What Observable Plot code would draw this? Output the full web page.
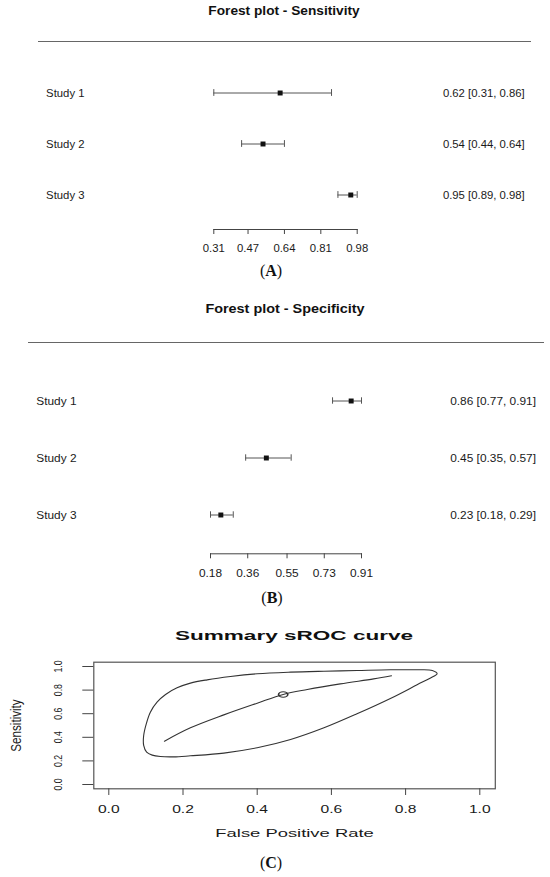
<!DOCTYPE html>
<html><head><meta charset="utf-8">
<script src="https://cdn.jsdelivr.net/npm/d3@7"></script>
<script src="https://cdn.jsdelivr.net/npm/@observablehq/plot@0.6"></script>
<style>
html,body{margin:0;padding:0;background:#fff;}
#page{position:relative;width:550px;height:877px;overflow:hidden;font-family:"Liberation Sans",Arial,sans-serif;color:#1a1a1a;}
.panel{position:absolute;left:0;}
.title{position:absolute;font-weight:bold;white-space:nowrap;line-height:1;transform-origin:50% 50%;color:#111;}
.cap{position:absolute;font-family:"Liberation Serif","Times New Roman",serif;font-size:16px;line-height:1;white-space:nowrap;transform:translateX(-50%);color:#111;}
.rule{position:absolute;height:0;border-top:1.3px solid #666;}
</style></head><body><div id="page"></div>
<script>
// ---- data ----
const studies = ["Study 1", "Study 2", "Study 3"];
const sensEst = [0.62, 0.54, 0.95];
const sensLow = [0.31, 0.44, 0.89];
const sensHigh = [0.86, 0.64, 0.98];
const specEst = [0.86, 0.45, 0.23];
const specLow = [0.77, 0.35, 0.18];
const specHigh = [0.91, 0.57, 0.29];
const sensTicks = [0.31, 0.47, 0.64, 0.81, 0.98];
const specTicks = [0.18, 0.36, 0.55, 0.73, 0.91];
const rocTicks = [0, 0.2, 0.4, 0.6, 0.8, 1];
// confidence region of the summary point
const regionFpr = [0.885, 0.872, 0.831, 0.759, 0.669, 0.580, 0.490, 0.400, 0.328, 0.265, 0.220, 0.184, 0.153, 0.130, 0.112, 0.101, 0.094, 0.094, 0.102, 0.117, 0.139, 0.175, 0.220, 0.310, 0.400, 0.490, 0.580, 0.669, 0.759, 0.831, 0.876];
const regionSens = [0.938, 0.966, 0.972, 0.972, 0.966, 0.960, 0.952, 0.938, 0.915, 0.887, 0.859, 0.819, 0.763, 0.698, 0.613, 0.514, 0.415, 0.331, 0.274, 0.249, 0.237, 0.234, 0.243, 0.266, 0.311, 0.381, 0.480, 0.599, 0.729, 0.845, 0.918];
// sROC curve
const curveFpr = [0.150, 0.220, 0.310, 0.400, 0.470, 0.535, 0.624, 0.714, 0.762];
const curveSens = [0.367, 0.480, 0.590, 0.689, 0.763, 0.805, 0.853, 0.895, 0.921];
const summaryFpr = [0.470];
const summarySens = [0.763];

const FONT = '"Liberation Sans", Arial, Helvetica, sans-serif';
const page = document.getElementById("page");

function scaleText(nodes, sx) {
  nodes.forEach(t => t.setAttribute("transform", (t.getAttribute("transform") || "") + ` scale(${sx},1)`));
}
function addTitle(text, cx, top, size, sx) {
  const d = document.createElement("div");
  d.className = "title"; d.textContent = text;
  d.style.left = cx + "px"; d.style.top = top + "px"; d.style.fontSize = size + "px";
  d.style.transform = `translateX(-50%) scaleX(${sx})`;
  page.appendChild(d);
}
function addCaption(letter, cx, top) {
  const d = document.createElement("div");
  d.className = "cap";
  d.innerHTML = `(<b>${letter}</b>)`;
  d.style.left = cx + "px"; d.style.top = top + "px";
  page.appendChild(d);
}
function addRule(x1, x2, y) {
  const d = document.createElement("div");
  d.className = "rule";
  d.style.left = x1 + "px"; d.style.width = (x2 - x1) + "px"; d.style.top = y + "px";
  page.appendChild(d);
}
function place(node, top) {
  const wrap = document.createElement("div");
  wrap.className = "panel"; wrap.style.top = top + "px";
  wrap.appendChild(node); page.appendChild(wrap);
}

function forest(est, low, high, ticks, o) {
  const rows = studies.map((s, i) => ({
    study: s, est: est[i], low: low[i], high: high[i],
    label: `${est[i].toFixed(2)} [${low[i].toFixed(2)}, ${high[i].toFixed(2)}]`
  }));
  const svg = Plot.plot({
    width: 550, height: o.height,
    marginLeft: o.left, marginRight: o.right, marginTop: 10, marginBottom: o.bottom,
    style: {background: "transparent", fontFamily: FONT, fontSize: "11px", color: "#1a1a1a"},
    x: {domain: [ticks[0], ticks[ticks.length - 1]]},
    y: {type: "band", domain: studies, range: o.range, padding: 0, axis: null},
    marks: [
      Plot.frame({anchor: "bottom", stroke: "#444"}),
      Plot.axisX({ticks, tickSize: 5, tickPadding: o.pad, tickFormat: d => d.toFixed(2), label: null, stroke: "#444", fill: "#1a1a1a", fontSize: 11}),
      Plot.ruleY(rows, {y: "study", x1: "low", x2: "high", stroke: "#555"}),
      Plot.tickX(rows, {x: "low", y: "study", stroke: "#555", insetTop: o.inset, insetBottom: o.inset}),
      Plot.tickX(rows, {x: "high", y: "study", stroke: "#555", insetTop: o.inset, insetBottom: o.inset}),
      Plot.dot(rows, {x: "est", y: "study", symbol: "square", r: 2.8, fill: "#111", stroke: "none"}),
      Plot.text(rows, {y: "study", text: "study", frameAnchor: "left", textAnchor: "start", dx: o.labelX - o.left, fontSize: 11, fill: "#1a1a1a"}),
      Plot.text(rows, {y: "study", text: "label", frameAnchor: "right", textAnchor: "end", dx: o.valueX - (550 - o.right), fontSize: 11, fill: "#1a1a1a"})
    ]
  });
  scaleText(svg.querySelectorAll("text"), o.sx);
  return svg;
}

// ---- Panel A ----
addTitle("Forest plot - Sensitivity", 284.4, 5.3, 12, 1.14);
addRule(37.9, 531.3, 40.5);
place(forest(sensEst, sensLow, sensHigh, sensTicks, {
  height: 235, left: 213.3, right: 193.3, bottom: 36, range: [37.1, 190.6], inset: 22.1,
  pad: 9.3, labelX: 45.6, valueX: 524.2, sx: 1.03
}), 30);
addCaption("A", 271, 263.4);

// ---- Panel B ----
addTitle("Forest plot - Specificity", 284.9, 302.8, 12, 1.2);
addRule(28, 544, 342.2);
place(forest(specEst, specLow, specHigh, specTicks, {
  height: 240, left: 210, right: 189, bottom: 36.7, range: [21.2, 194.1], inset: 25.3,
  pad: 10, labelX: 35.8, valueX: 535.5, sx: 1.08
}), 350);
addCaption("B", 272, 589.6);

// ---- Panel C ----
addTitle("Summary sROC curve", 293.8, 629.3, 13.5, 1.67);
const region = regionFpr.map((x, i) => ({fpr: x, sens: regionSens[i]}));
const curve = curveFpr.map((x, i) => ({fpr: x, sens: curveSens[i]}));
const summary = summaryFpr.map((x, i) => ({fpr: x, sens: summarySens[i]}));
const roc = Plot.plot({
  width: 550, height: 200,
  marginTop: 16.7, marginBottom: 56.7, marginLeft: 93.3, marginRight: 55.2,
  style: {background: "transparent", fontFamily: FONT, fontSize: "11px", color: "#1a1a1a"},
  x: {domain: [0, 1], range: [108.3, 479.3]},
  y: {domain: [0, 1], range: [139, 21]},
  marks: [
    Plot.frame({stroke: "#555", strokeWidth: 1.2}),
    Plot.axisX({ticks: rocTicks, tickSize: 6.7, tickPadding: 10, tickFormat: d => d.toFixed(1), label: null, fontSize: 11, stroke: "#444", fill: "#1a1a1a"}),
    Plot.axisY({ticks: rocTicks, tickSize: 11, tickFormat: () => "", label: null, stroke: "#444"}),
    Plot.line(region, {x: "fpr", y: "sens", curve: "catmull-rom-closed", stroke: "#333", strokeWidth: 1.1}),
    Plot.line(curve, {x: "fpr", y: "sens", curve: "catmull-rom", stroke: "#333", strokeWidth: 1.1}),
    Plot.dot(summary, {x: "fpr", y: "sens", r: 2.7, stroke: "#333", fill: "none", strokeWidth: 1}),
    Plot.text(rocTicks, {y: d => d, text: d => d.toFixed(1), frameAnchor: "left", rotate: -90, dx: -32.3, lineAnchor: "bottom", textAnchor: "middle", fontSize: 10.5, fill: "#1a1a1a"}),
    Plot.text(["Sensitivity"], {frameAnchor: "left", rotate: -90, dx: -73.3, lineAnchor: "bottom", textAnchor: "middle", fontSize: 14, fill: "#1a1a1a"}),
    Plot.text(["False Positive Rate"], {frameAnchor: "bottom", dy: 48.4, lineAnchor: "bottom", textAnchor: "middle", fontSize: 11.5, fill: "#1a1a1a"})
  ]
});
roc.querySelectorAll('g[aria-label="y-axis tick label"]').forEach(g => g.remove());
scaleText(roc.querySelectorAll('g[aria-label="x-axis tick label"] text'), 1.42);
const tg = roc.querySelectorAll('g[aria-label="text"]');
if (tg[0]) scaleText(tg[0].querySelectorAll("text"), 0.83);
if (tg[1]) scaleText(tg[1].querySelectorAll("text"), 0.83);
if (tg[2]) scaleText(tg[2].querySelectorAll("text"), 1.6);
roc.querySelectorAll('g[aria-label="dot"] circle').forEach(c => {
  const tr = c.getAttribute("transform");
  if (tr) c.setAttribute("transform", tr + " scale(1.7,1)");
  else {
    const cx = +c.getAttribute("cx"), cy = +c.getAttribute("cy");
    c.setAttribute("transform", `translate(${cx},${cy}) scale(1.7,1) translate(${-cx},${-cy})`);
  }
});
place(roc, 645);
addCaption("C", 271, 855.1);
</script></body></html>
